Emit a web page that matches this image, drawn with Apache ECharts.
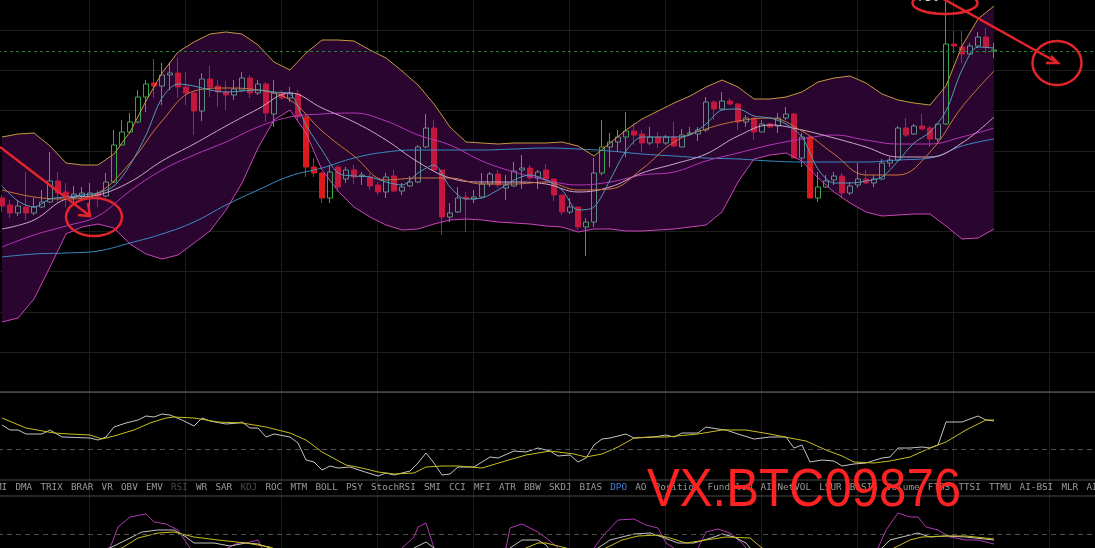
<!DOCTYPE html>
<html>
<head>
<meta charset="utf-8">
<script src="https://cdn.jsdelivr.net/npm/echarts/dist/echarts.min.js"></script>
<style>
html, body { margin: 0; padding: 0; background: #000; }
#chart { width: 1095px; height: 548px; }
</style>
</head>
<body>
<div id="chart"></div>
<script>
// 125 candles, plus empty slots on the right
const slotCount = 137
const slots = Array.from({ length: slotCount }, (_, i) => String(i))

// [open, close, low, high]
const ohlc = [
  [202,194,188,205],[195,187,182,200],[187,194,184,200],[193,187,180,228],[187,193,185,202],
  [193,198,192,210],[198,219,197,248],[219,207,198,228],[208,203,193,217],[203,206,197,214],
  [204,207,200,213],[204,207,192,217],[207,204,193,210],[204,218,203,227],[218,255,217,270],
  [255,268,255,280],[268,278,267,287],[278,303,277,310],[303,316,288,320],[317,314,302,341],
  [314,325,295,337],[325,327,310,338],[327,313,302,342],[313,307,295,328],[307,289,265,308],
  [289,321,279,327],[321,313,303,334],[314,308,293,320],[308,305,290,319],[305,311,300,320],
  [310,322,308,328],[322,307,302,325],[307,316,305,320],[316,287,278,318],[286,307,273,320],
  [307,302,300,310],[302,307,298,313],[306,283,280,310],[283,233,223,285],[233,227,223,242],
  [227,202,197,228],[202,228,197,235],[233,213,210,235],[221,230,217,233],[230,223,216,235],
  [224,225,215,228],[223,214,210,227],[215,208,205,218],[208,223,202,227],[224,209,208,230],
  [209,213,205,217],[214,218,213,224],[218,253,217,255],[253,272,252,286],[272,230,228,280],
  [230,183,165,230],[183,187,178,197],[188,202,187,213],[203,201,168,208],[201,203,197,210],
  [203,216,202,227],[216,226,213,228],[226,215,212,230],[212,215,200,225],[214,229,213,238],
  [230,232,211,245],[232,222,220,235],[222,228,211,230],[230,221,218,236],[221,205,199,221],
  [205,188,185,205],[188,193,186,202],[193,173,170,193],[173,178,144,182],[178,227,173,242],
  [227,253,225,280],[253,258,233,267],[258,263,248,270],[263,269,243,288],[269,265,255,277],
  [266,257,248,270],[257,263,255,273],[263,257,252,268],[257,263,255,265],[263,254,253,278],
  [253,265,253,271],[266,267,265,273],[266,270,259,273],[270,298,268,303],[298,291,280,300],
  [291,299,290,308],[299,296,295,302],[296,278,270,297],[278,282,273,285],[282,268,260,282],
  [268,276,268,280],[276,273,272,277],[274,282,267,287],[282,286,280,293],[286,242,242,287],
  [242,263,233,267],[263,202,202,264],[202,213,198,228],[213,219,212,225],[220,224,215,228],
  [224,207,202,227],[207,214,205,218],[215,221,212,237],[221,217,216,230],[217,221,213,225],
  [221,237,220,241],[237,240,233,243],[240,272,238,274],[272,265,263,282],[266,274,265,276],
  [274,271,270,286],[272,261,253,274],[261,276,258,277],[276,356,275,410],[356,354,347,369],
  [353,346,337,369],[346,354,345,357],[354,363,352,368],[363,353,347,372],[349,350,342,357]
]
const strongUp = [14, 15, 16, 17, 18, 41, 73, 75, 78, 102, 118, 124]
const strongDown = [19, 38, 39, 40, 101]
const lastPrice = 349

// Bollinger bands and fast MA, one value every 2 candles
const bandStep = 2
const bollUpper = [263,266,267,254,237,235,235,246,268,299,327,348,358,366,368,366,355,338,330,347,
  360,360,359,350,342,329,315,296,273,258,257,256,257,257,257,258,254,244,257,270,
  281,289,297,304,313,320,313,301,301,303,308,318,322,324,317,306,300,297,295,314,354,381,394]
const bollLower = [78,82,101,133,166,173,176,172,156,146,141,145,157,169,190,217,252,280,290,267,
  230,209,193,183,175,170,171,176,180,181,180,178,177,176,174,173,168,171,171,169,
  169,170,171,173,175,188,218,241,245,247,239,222,208,197,188,184,185,186,186,174,161,162,171]
const maFast = [214,199,193,201,203,205,207,214,235,265,302,316,314,310,308,309,310,308,306,275,
  250,227,224,223,218,215,227,235,213,201,202,210,220,225,220,210,190,193,220,249,
  263,263,263,265,276,290,291,284,282,276,263,231,217,217,219,223,239,257,268,289,330,353,352]

// slower averages, one value every 4 candles
const maStep = 4
const maOrange = [210,203,201,207,237,279,309,312,310,300,269,244,220,222,222,216,216,218,210,211,231,258,271,279,282,269,246,225,225,248,293,329]
const maPink = [171,180,201,205,218,239,256,274,291,307,292,278,260,238,222,218,218,216,208,213,227,236,246,264,275,270,262,253,243,243,257,283]
const maMagenta = [153,165,174,184,209,230,245,258,273,283,286,287,279,265,255,239,228,220,215,218,225,228,239,247,255,261,265,260,256,256,263,272]
const maBlue = [143,146,147,149,157,166,178,195,210,224,232,242,248,250,250,250,251,252,251,249,246,244,242,241,239,238,238,238,240,242,254,261]

// first sub panel: [candle index, value]
const oscWhite = [[0,55],[1,50],[2,50],[3,46],[5,46],[6,50],[7.5,43],[11,42],[12,40],[13,43],[14,53],[15.5,57],[17,60],[18,64],[19,63],[20,66],[21,65],[22.5,60],[24,54],[25,62],[26,59],[28,56],[29.5,57],[30,58],[31,52],[32,52],[33,43],[34,46],[36,43],[37,37],[38,20],[39,18],[40,10],[41,14],[42,12],[43.5,13],[45,9],[47,4],[48,7],[49,5],[51,9],[52,17],[53,27],[54,17],[55,5],[56,6],[57,13],[59,13],[61,23],[62,22],[64,29],[65.5,28],[67,32],[68.5,29],[69.5,24],[71,25],[72,18],[73,22],[74,35],[75,41],[76,42],[78,46],[79,42],[81.5,43],[83,45],[84,43],[85,47],[87,47],[88,53],[89.5,51],[90.5,50],[92,46],[94,41],[96,43],[98,43],[99,32],[100,35],[101,18],[102.5,20],[104,19],[105,14],[106.5,16],[108,17],[110,22],[111,23],[112,32],[113.5,32],[115,33],[116,32],[117,35],[118,58],[120,58],[122,64],[123,60],[124,59]]
const oscYellow = [[0,62],[3,52],[6.5,47],[8.5,46],[11,45],[12.5,41],[14,44],[16.5,50],[18.5,57],[20.5,62],[21.5,63],[24,62],[27,58],[30,57],[33,53],[36,47],[38,40],[40,28],[43,15],[45,12],[47,8],[49,6],[51.5,7],[53,13],[55,14],[57,14],[60,12],[62.5,18],[65.5,25],[68.5,29],[69.5,28],[71.5,26],[73,23],[75,26],[77,33],[79,42],[81,43],[83,43],[87,46],[90,50],[93,50],[96,46],[98.5,42],[100.5,39],[103,30],[105,24],[106.5,18],[109,17],[111,19],[113.5,23],[116,32],[118,38],[120.5,50],[123,60],[124,60]]
const oscMid = 31

// second sub panel (mostly below the visible area)
const subPurple = [[0,30],[13.5,48],[14.5,69],[16,79],[18,82],[19,74],[20.5,72],[22,66],[23.5,48],[25,36],[29.5,53],[30.5,53],[32,56],[32.5,48],[34,31],[47,26],[51.5,59],[52,69],[53,73],[54,48],[55.5,31],[63,48],[63.5,68],[65,72],[67,64],[68.5,55],[69.5,48],[71.5,31],[74,48],[75,59],[77,76],[79,77],[80.5,71],[82,68],[83,53],[84,48],[85.5,36],[87,48],[88,64],[89.5,67],[91,63],[92.5,53],[93,48],[95,31],[107,26],[109.5,48],[110.5,66],[112,83],[113.5,79],[114.5,79],[115.5,69],[117,66],[118.5,59],[120.5,56],[122,56],[124,52]]
const subWhite = [[0,30],[13.5,48],[15.5,56],[17.5,64],[19.5,66],[21.5,66],[23,59],[24,53],[26.5,53],[28.5,50],[30.5,53],[32,52],[33.5,48],[36,36],[49.5,31],[51.5,48],[53,54],[54,48],[56,36],[62,36],[63.5,48],[65,56],[67,56],[68,51],[68.5,46],[72,38],[74.5,48],[76,56],[79,62],[81,63],[82.5,59],[84.5,53],[86.5,53],[89,59],[90,62],[91.5,59],[93,53],[93.5,48],[96,36],[108.5,36],[110,48],[111,56],[113.5,61],[114.5,63],[116,59],[118,60],[120.5,59],[124,56]]
const subYellow = [[0,30],[15,48],[17,58],[19.5,63],[21.5,64],[24,59],[27,56],[30.5,53],[33.5,49],[37,38],[62,34],[65.5,48],[67,53],[68,53],[70.5,48],[73.5,41],[75.5,48],[77.5,56],[79.5,60],[82,61],[83.5,58],[85.5,53],[88,56],[90.5,59],[93.5,58],[95,48],[97,40],[109.5,40],[111.5,48],[113.5,56],[115,59],[118,60],[120.5,60],[124,57]]
const subMid = 62

const tabs = ['MI','DMA','TRIX','BRAR','VR','OBV','EMV','RSI','WR','SAR','KDJ','ROC','MTM','BOLL','PSY','StochRSI',
  'SMI','CCI','MFI','ATR','BBW','SKDJ','BIAS','DPO','AO','Position','Fundflow','AI-NetVOL','LSUR','BASIS',
  'Volume','FTBS','TTSI','TTMU','AI-BSI','MLR','AI-']
const dimTabs = ['RSI', 'KDJ']
const activeTab = 'DPO'

const stepped = (arr, step) => arr.map((v, k) => [k * step, v])

const candleData = ohlc.map((d, i) => {
  if (d[1] >= d[0]) {
    const c = strongUp.includes(i) ? '#3aa64a' : '#5f8c80'
    return { value: d, itemStyle: { color: 'rgba(0,0,0,0)', borderColor: c } }
  }
  const c = strongDown.includes(i) ? '#dc1a1e' : '#c4173d'
  return { value: d, itemStyle: { color0: c, borderColor0: c } }
})

const hide = { show: false }
const plainAxis = (gridIndex, extra) => Object.assign({
  type: 'value', gridIndex, axisLine: hide, axisTick: hide, axisLabel: hide, splitLine: hide
}, extra)
const indexAxis = (gridIndex) => plainAxis(gridIndex, { min: -0.5, max: slotCount - 0.5 })

const line = (data, color, xAxisIndex, yAxisIndex, extra) => Object.assign({
  type: 'line', data, xAxisIndex, yAxisIndex, symbol: 'none', silent: true,
  lineStyle: { color, width: 1 }, z: 4
}, extra)

// grids may sit partly outside the canvas, like the cropped original
const gridBox = (box) => Object.assign({ outerBoundsMode: 'none', containLabel: false }, box)

const red = '#e2252b'
const annotation = [
  { type: 'line', shape: { x1: 0, y1: 147, x2: 90, y2: 216 } },
  { type: 'polyline', shape: { points: [[78, 215], [90, 216], [88, 203]] } },
  { type: 'ellipse', shape: { cx: 94, cy: 217, rx: 28, ry: 19 } },
  { type: 'ellipse', shape: { cx: 945, cy: 3, rx: 32.5, ry: 11 } },
  { type: 'line', shape: { x1: 940, y1: -3, x2: 1058, y2: 63 } },
  { type: 'polyline', shape: { points: [[1046, 63], [1058, 63], [1051, 56]] } },
  { type: 'ellipse', shape: { cx: 1057, cy: 63, rx: 24.5, ry: 22 } }
].map(g => Object.assign(g, { z: 100, style: { stroke: red, lineWidth: 2.5, fill: null } }))

const tabTexts = []
let cursor = -4
tabs.forEach(t => {
  let fill = '#9a9a9a'
  if (dimTabs.includes(t)) fill = '#4a4a4a'
  if (t === activeTab) fill = '#3b82d6'
  tabTexts.push({
    type: 'text', x: cursor, y: 488, z: 50,
    style: { text: t, fill, font: '9.3px "DejaVu Sans Mono"', verticalAlign: 'middle' }
  })
  cursor += t.length * 5.6 + 8.2
})

const separators = [[392, '#6e6e6e'], [480, '#4c4c4c'], [496, '#4c4c4c']].map(([y, c]) => ({
  type: 'line', z: 40, shape: { x1: 0, y1: y, x2: 1095, y2: y }, style: { stroke: c, lineWidth: 1 }
}))

// filled area between the Bollinger bands
const renderBand = (params, api) => {
  const top = bollUpper.map((v, k) => api.coord([k * bandStep, v]))
  const bottom = bollLower.map((v, k) => api.coord([k * bandStep, v])).reverse()
  return { type: 'polygon', shape: { points: top.concat(bottom) }, style: { fill: '#2a0530' } }
}

const chart = echarts.init(document.getElementById('chart'))
chart.setOption({
  backgroundColor: '#000',
  animation: false,
  grid: [
    gridBox({ left: -7, top: 0, width: 1104, height: 548 }),  // vertical grid lines
    gridBox({ left: 0, top: -10.4, width: 1095, height: 403 }), // horizontal lines of the price panel
    gridBox({ left: -2, top: 0, width: 1096, height: 392 }),    // price panel
    gridBox({ left: -2, top: 392, width: 1096, height: 88 }),   // first indicator
    gridBox({ left: -2, top: 496, width: 1096, height: 100 })   // second indicator
  ],
  xAxis: [
    plainAxis(0, { min: 0, max: 11.5, interval: 1, splitLine: { show: true, lineStyle: { color: '#1d1d1d' } } }),
    plainAxis(1, { min: 0, max: 1 }),
    { type: 'category', gridIndex: 2, data: slots, show: false },
    indexAxis(2),
    indexAxis(3),
    indexAxis(4)
  ],
  yAxis: [
    plainAxis(0, { min: 0, max: 1 }),
    plainAxis(1, { min: 0, max: 10, interval: 1, splitLine: { show: true, lineStyle: { color: '#1d1d1d' } } }),
    plainAxis(2, { min: 8, max: 400 }),
    plainAxis(3, { min: 0, max: 88 }),
    plainAxis(4, { min: 0, max: 100 })
  ],
  series: [
    { type: 'line', xAxisIndex: 0, yAxisIndex: 0, data: [] },
    { type: 'custom', xAxisIndex: 3, yAxisIndex: 2, data: [[0, 200]], renderItem: renderBand, silent: true, z: 1 },
    {
      type: 'candlestick', xAxisIndex: 2, yAxisIndex: 2, data: candleData, barWidth: 5, silent: true, z: 3,
      itemStyle: { color: 'rgba(0,0,0,0)', color0: '#c4173d', borderColor: '#5f8c80', borderColor0: '#c4173d', borderWidth: 1 },
      markLine: {
        silent: true, symbol: ['none', 'none'], label: { show: false },
        lineStyle: { color: '#2b7a3a', type: [3, 3], width: 1 },
        data: [{ yAxis: lastPrice }]
      }
    },
    line(stepped(maBlue, maStep), '#3a8cc4', 3, 2, { smooth: 0.4 }),
    line(stepped(maMagenta, maStep), '#b536b8', 3, 2, { smooth: 0.4 }),
    line(stepped(maPink, maStep), '#cfaacb', 3, 2, { smooth: 0.4 }),
    line(stepped(maOrange, maStep), '#c8763c', 3, 2, { smooth: 0.4 }),
    line(stepped(maFast, bandStep), '#4f9db6', 3, 2, { smooth: 0.3 }),
    line(stepped(bollUpper, bandStep), '#c39a3e', 3, 2),
    line(stepped(bollLower, bandStep), '#c846b8', 3, 2),

    line(oscWhite, '#c4c4c4', 4, 3, {
      markLine: {
        silent: true, symbol: ['none', 'none'], label: { show: false },
        lineStyle: { color: '#505050', type: [5, 4], width: 1 }, data: [{ yAxis: oscMid }]
      }
    }),
    line(oscYellow, '#c9be1e', 4, 3),

    line(subPurple, '#b038b0', 5, 4, {
      markLine: {
        silent: true, symbol: ['none', 'none'], label: { show: false },
        lineStyle: { color: '#505050', type: [5, 4], width: 1 }, data: [{ yAxis: subMid }]
      }
    }),
    line(subWhite, '#c4c4c4', 5, 4),
    line(subYellow, '#c9be1e', 5, 4)
  ],
  graphic: [
    ...separators,
    ...tabTexts,
    {
      type: 'text', x: 917, y: 4, z: 90,
      style: { text: '750 →', fill: '#dddddd', font: '12px "DejaVu Sans"', verticalAlign: 'bottom' }
    },
    ...annotation,
    {
      type: 'text', x: 647, y: 491.7, scaleX: 0.927, z: 110,
      style: { text: 'VX.BTC09876', fill: '#ff2222', font: '53px "Liberation Sans"', verticalAlign: 'middle' }
    }
  ]
})
</script>
</body>
</html>
